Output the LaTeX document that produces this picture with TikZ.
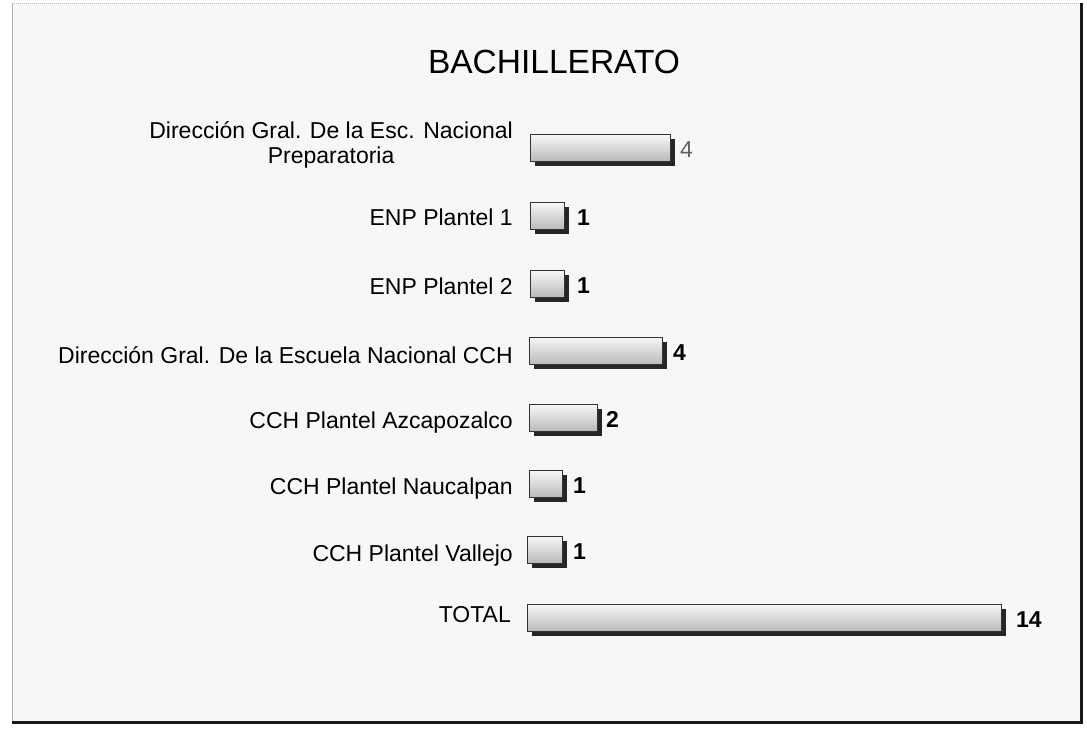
\documentclass[tikz,border=0pt]{standalone}
\usepackage{fontspec}
\setmainfont{Liberation Sans}
\usetikzlibrary{shadows}
\begin{document}
\begin{tikzpicture}[x=1pt,y=-1pt,
  barbox/.style={draw=black!80, line width=0.8pt, top color=gray!6, bottom color=gray!55,
    inner sep=0pt, anchor=north west, minimum height=27pt,
    drop shadow={shadow xshift=5pt, shadow yshift=-5pt, fill=black!85, opacity=1}},
  lbl/.style={anchor=base east, inner sep=0pt, font=\fontsize{23}{25}\selectfont},
  val/.style={anchor=west, inner sep=0pt, font=\fontsize{23}{25}\selectfont\bfseries},
  ttl/.style={inner sep=0pt, font=\fontsize{33.5}{36}\selectfont}]
\useasboundingbox (0,0) rectangle (1087,731);
\fill[white] (0,0) rectangle (1087,731);
% frame
\fill[gray!6] (12,3) rectangle (1081,722);
\draw[gray!55, densely dotted, line width=1pt] (12,3) -- (1081,3);
\draw[gray!60, line width=1pt] (12,3) -- (12,722);
\draw[black!90, line width=3pt] (12,722) -- (1081,722) -- (1081,3);
% title
\node[ttl] (title) at (554,62) {BACHILLERATO};
% bars
\node[barbox, minimum width=140pt] (b1) at (530,134) {};
\node[barbox, minimum width=34pt]  (b2) at (530,202) {};
\node[barbox, minimum width=34pt]  (b3) at (530,270) {};
\node[barbox, minimum width=133pt] (b4) at (529,337) {};
\node[barbox, minimum width=68pt]  (b5) at (529,404) {};
\node[barbox, minimum width=33pt]  (b6) at (529,470) {};
\node[barbox, minimum width=35pt]  (b7) at (527,536) {};
\node[barbox, minimum width=474pt] (b8) at (527,604) {};
% labels
\node[anchor=east, inner sep=0pt, align=center, font=\fontsize{23}{25}\selectfont] (l1) at (513,145)
  {Dirección Gral. De la Esc. Nacional\\Preparatoria};
\node[lbl] (l2) at (513,225) {ENP Plantel 1};
\node[lbl] (l3) at (513,294) {ENP Plantel 2};
\node[lbl] (l4) at (513,363) {Dirección Gral. De la Escuela Nacional CCH};
\node[lbl] (l5) at (513,428) {CCH Plantel Azcapozalco};
\node[lbl] (l6) at (513,494) {CCH Plantel Naucalpan};
\node[lbl] (l7) at (513,561) {CCH Plantel Vallejo};
\node[lbl] (l8) at (511,622) {TOTAL};
% values
\node[val, font=\fontsize{23}{25}\selectfont, text=gray!75!black] (v1) at ([xshift=9pt,yshift=-2pt]b1.east) {4};
\node[val] (v2) at ([xshift=12pt,yshift=-2pt]b2.east) {1};
\node[val] (v3) at ([xshift=12pt,yshift=-2pt]b3.east) {1};
\node[val] (v4) at ([xshift=10pt,yshift=-2pt]b4.east) {4};
\node[val] (v5) at ([xshift=8pt,yshift=-2pt]b5.east) {2};
\node[val] (v6) at ([xshift=10pt,yshift=-2pt]b6.east) {1};
\node[val] (v7) at ([xshift=10pt,yshift=-2pt]b7.east) {1};
\node[val] (v8) at ([xshift=14pt,yshift=-2pt]b8.east) {14};
\end{tikzpicture}
\end{document}
